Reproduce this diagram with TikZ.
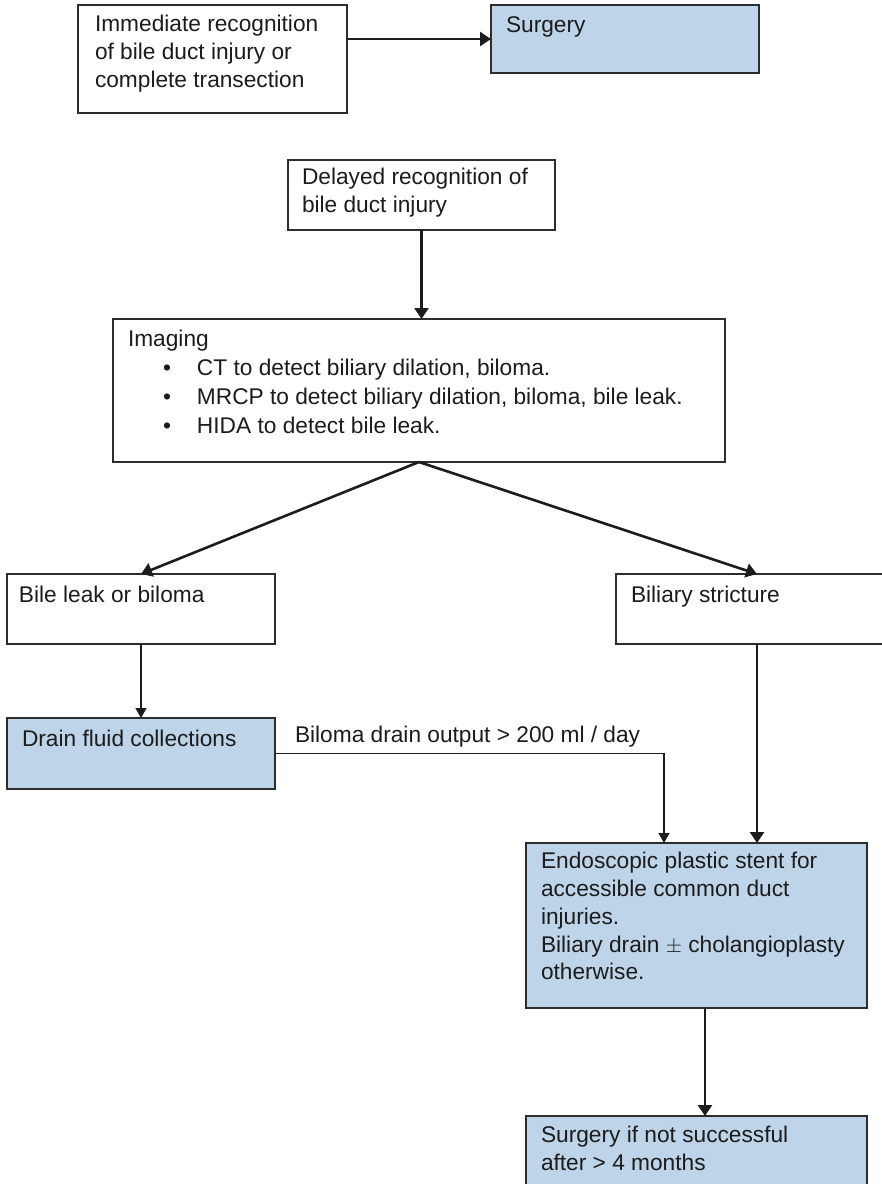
\documentclass[tikz,border=0pt]{standalone}
\usepackage{fontspec}
\setmainfont{Liberation Sans}
\usetikzlibrary{arrows.meta,calc}

\definecolor{boxfill}{RGB}{190,212,233}
\definecolor{edge}{RGB}{45,45,45}
\definecolor{ink}{RGB}{28,28,28}

\tikzset{
  box/.style={draw=edge, line width=1.4pt, rectangle, inner sep=0pt, outer sep=0pt, anchor=north west},
  bluebox/.style={box, fill=boxfill},
  txt/.style={anchor=north west, inner sep=0pt, outer sep=0pt, align=left, text=ink,
    font=\fontsize{22.7}{27.7}\selectfont},
  arr/.style={draw=ink, line width=2.6pt, -{Triangle[length=11pt,width=14pt]}},
  thinarr/.style={draw=ink, line width=1.5pt, -{Triangle[length=10pt,width=11pt]}},
  thinline/.style={draw=ink, line width=1.5pt},
}

\begin{document}
\begin{tikzpicture}[x=1pt, y=-1pt]
  \clip (0,0) rectangle (882,1184);
  \fill[white] (0,0) rectangle (882,1184);

  % frames
  \node[box, minimum width=269pt, minimum height=108pt] (imm) at (78,5) {};
  \node[bluebox, minimum width=268pt, minimum height=68pt] (surg) at (491,5) {};
  \node[box, minimum width=267pt, minimum height=70pt] (del) at (288,160) {};
  \node[box, minimum width=612pt, minimum height=143pt] (img) at (113,319) {};
  \node[box, minimum width=268pt, minimum height=70pt] (leak) at (7,574) {};
  \node[box, minimum width=282pt, minimum height=70pt] (strict) at (616,574) {};
  \node[bluebox, minimum width=268pt, minimum height=71pt] (drain) at (7,718) {};
  \node[bluebox, minimum width=341pt, minimum height=165pt] (endo) at (526,843) {};
  \node[bluebox, minimum width=341pt, minimum height=120pt] (late) at (526,1116) {};

  % texts
  \node[txt] (immT) at (95,15.5) {Immediate recognition\\of bile duct injury or\\complete transection};
  \node[txt] (surgT) at (506,16.2) {Surgery};
  \node[txt] (delT) at (302,168.5) {Delayed recognition of\\bile duct injury};
  \node[txt, font=\fontsize{22.7}{28.7}\selectfont] (imgT) at (128,330.5)
    {Imaging\\
     \hspace*{35pt}\makebox[34pt][l]{\textbullet}CT to detect biliary dilation, biloma.\\
     \hspace*{35pt}\makebox[34pt][l]{\textbullet}MRCP to detect biliary dilation, biloma, bile leak.\\
     \hspace*{35pt}\makebox[34pt][l]{\textbullet}HIDA to detect bile leak.};
  \node[txt] (leakT) at (19,586.5) {Bile leak or biloma};
  \node[txt] (strictT) at (631,586.5) {Biliary stricture};
  \node[txt] (drainT) at (22,730.5) {Drain fluid collections};
  \node[txt] (outT) at (295,726.5) {Biloma drain output > 200 ml / day};
  \node[txt] (endoT) at (541,852.5) {Endoscopic plastic stent for\\accessible common duct\\injuries.\\Biliary drain $\pm$ cholangioplasty\\otherwise.};
  \node[txt] (lateT) at (541,1126.5) {Surgery if not successful\\after > 4 months};

  % entry and exit points on the lower boxes
  \coordinate (endoInL) at ($(endo.north west)+(138,0)$);
  \coordinate (endoOut) at ($(endo.south)+(8.5,0)$);

  % connectors
  \draw[arr] (imm.east |- surg.west) -- (surg.west);
  \draw[arr] (del.south) -- (img.north -| del.south);
  \draw[arr] (img.south) -- (leak.north);
  \draw[arr] (img.south) -- (strict.north);
  \draw[thinarr] (leak.south) -- (drain.north);
  \draw[thinline] (drain.east) -| ($(endoInL)+(0,-20)$);
  \draw[thinarr] ($(endoInL)+(0,-20)$) -- (endoInL);
  \draw[arr] (strict.south) -- (endo.north -| strict.south);
  \draw[arr] (endoOut) -- (late.north -| endoOut);
\end{tikzpicture}
\end{document}
